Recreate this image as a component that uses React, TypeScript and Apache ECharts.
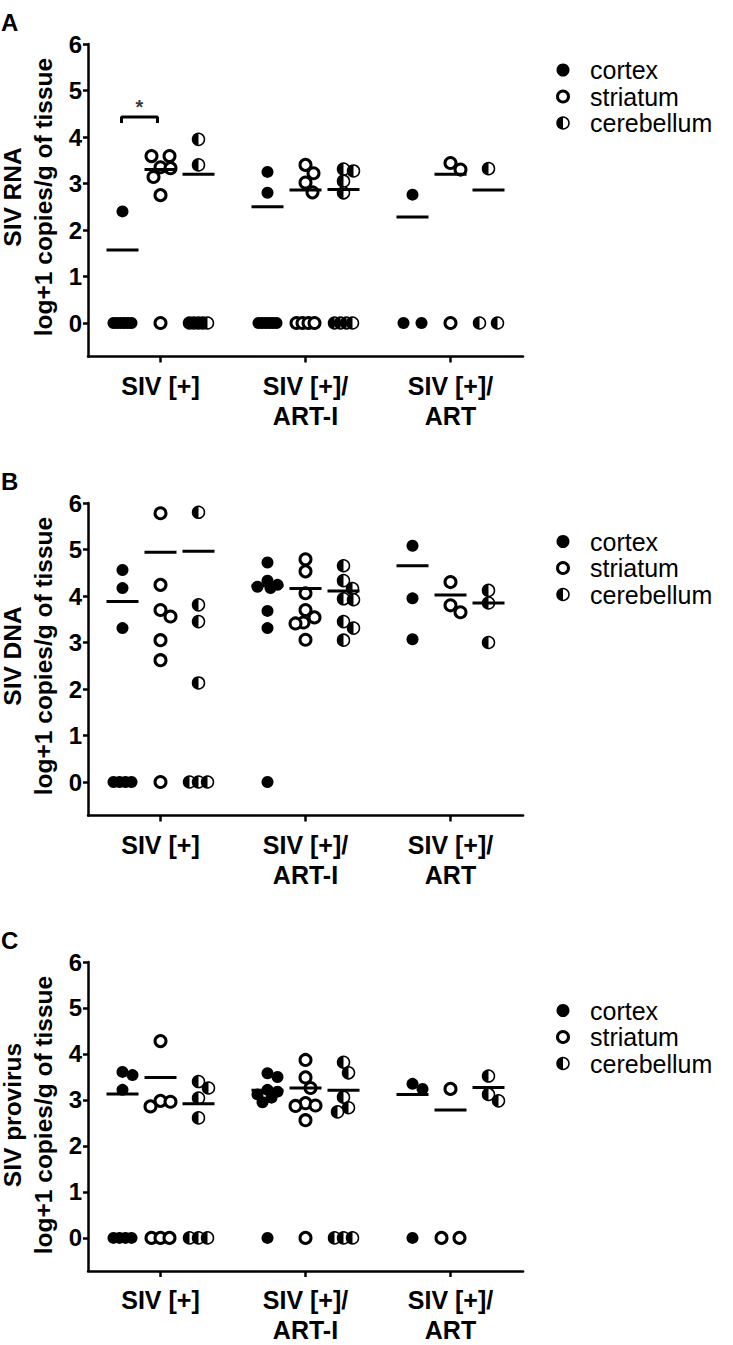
import React, { useEffect, useRef } from 'react';
import * as echarts from 'echarts';

const groups = ['SIV [+]', 'SIV [+]/\nART-I', 'SIV [+]/\nART'];
const tissues = ['cortex', 'striatum', 'cerebellum'];
const yTickValues = [0, 1, 2, 3, 4, 5, 6];
const groupTickValues = [0, 1, 2];

// A: SIV RNA (one inner list per group: SIV[+], SIV[+]/ART-I, SIV[+]/ART)
const rnaCortex = [[2.4, 0, 0, 0, 0, 0, 0], [3.25, 2.8, 0, 0, 0, 0, 0, 0], [2.76, 0, 0]];
const rnaStriatum = [[3.59, 3.59, 3.35, 3.33, 3.14, 2.75, 0], [3.4, 3.22, 3.02, 2.81, 0, 0, 0, 0], [3.44, 3.3, 0]];
const rnaCerebellum = [[3.95, 3.4, 0, 0, 0, 0, 0], [3.31, 3.27, 3.05, 2.8, 0, 0, 0, 0], [3.32, 0, 0]];
const rnaMeanCortex = [1.57, 2.5, 2.28];
const rnaMeanStriatum = [3.3, 2.86, 3.2];
const rnaMeanCerebellum = [3.2, 2.87, 2.86];

// B: SIV DNA
const dnaCortex = [[4.56, 4.17, 3.31, 0, 0, 0, 0], [4.72, 4.33, 4.24, 4.2, 4.17, 3.68, 3.31, 0], [5.08, 3.95, 3.07]];
const dnaStriatum = [[5.78, 4.24, 3.7, 3.56, 3.05, 2.62, 0], [4.79, 4.53, 4.06, 3.7, 3.54, 3.43, 3.41, 3.06], [4.3, 3.8, 3.65]];
const dnaCerebellum = [[5.8, 3.81, 3.45, 2.13, 0, 0, 0], [4.65, 4.33, 4.16, 3.94, 3.92, 3.45, 3.31, 3.05], [4.12, 3.85, 3.0]];
const dnaMeanCortex = [3.88, 4.22, 4.65];
const dnaMeanStriatum = [4.94, 4.16, 4.02];
const dnaMeanCerebellum = [4.96, 4.11, 3.85];

// C: SIV provirus
const provCortex = [[3.61, 3.54, 3.22, 0, 0, 0, 0], [3.58, 3.5, 3.22, 3.18, 3.12, 3.05, 2.95, 0], [3.35, 3.24, 0]];
const provStriatum = [[4.28, 2.98, 2.96, 2.86, 0, 0, 0], [3.87, 3.49, 3.26, 2.93, 2.88, 2.87, 2.56, 0], [3.24, 0, 0]];
const provCerebellum = [[3.4, 3.26, 3.04, 2.61, 0, 0, 0], [3.82, 3.59, 3.06, 2.83, 2.74, 0, 0, 0], [3.52, 3.12, 2.98]];
const provMeanCortex = [3.13, 3.21, 3.12];
const provMeanStriatum = [3.49, 3.26, 2.78];
const provMeanCerebellum = [2.92, 3.21, 3.27];

const panelLetters = ['A', 'B', 'C'];
const panelMeasures = ['SIV RNA', 'SIV DNA', 'SIV provirus'];
const yUnit = 'log+1 copies/g of tissue';

// significance bracket in panel A (cortex vs striatum, SIV[+])
const sigLevel = 4.43;
const sigLabel = '*';

// ---- layout / styling ----
const FONT = '"Liberation Sans", Arial, Helvetica, sans-serif';
const GRID_LEFT = 88;
const GRID_WIDTH = 435;
const GRID_HEIGHT = 312.5;
const PANEL_TOPS = [44, 503, 962];
const Y_MIN = -0.72;
const Y_MAX = 6;
const X_MIN = -0.5;
const X_MAX = 2.5;
const COLUMN_OFFSET_PX = [-38, 0, 38];
const PX_PER_X = GRID_WIDTH / (X_MAX - X_MIN);
const PX_PER_Y = GRID_HEIGHT / (Y_MAX - Y_MIN);
const LEGEND_X = [563, 563, 563];
const LEGEND_Y = [70, 541.5, 1010.5];
const LEGEND_STEP = 26.5;

const HALF_LEFT = 'path://M50,0 C22.39,0 0,22.39 0,50 C0,77.61 22.39,100 50,100 Z M100,50 L100,50';

// simple beeswarm (pixel space) for one column
function swarm(values: number[]): number[] {
  const D = 11.5;
  const H = 10;
  const offsets = new Array(values.length).fill(0);
  const placed: { x: number; y: number }[] = [];
  const same = new Map<number, number[]>();
  values.forEach((v, i) => {
    const arr = same.get(v) || [];
    arr.push(i);
    same.set(v, arr);
  });
  const singles: number[] = [];
  same.forEach((arr, v) => {
    if (arr.length > 1) {
      const step = Math.min(20, 18 / (arr.length - 1));
      arr.forEach((i, k) => {
        offsets[i] = (k - (arr.length - 1) / 2) * step;
        placed.push({ x: offsets[i], y: v * PX_PER_Y });
      });
    } else singles.push(arr[0]);
  });
  singles.sort((a, b) => values[b] - values[a]);
  for (const i of singles) {
    const y = values[i] * PX_PER_Y;
    let best = 0;
    let bestD = -1;
    for (let k = 0; k <= 2 * H; k++) {
      const c = k === 0 ? 0 : k % 2 === 1 ? Math.ceil(k / 2) : -k / 2;
      let m = Infinity;
      for (const p of placed) m = Math.min(m, Math.hypot(p.x - c, p.y - y));
      if (m >= D) {
        best = c;
        bestD = m;
        break;
      }
      if (m > bestD) {
        bestD = m;
        best = c;
      }
    }
    offsets[i] = best;
    placed.push({ x: best, y });
  }
  return offsets;
}

function pointsFor(lists: number[][], t: number) {
  const out: number[][] = [];
  lists.forEach((vals, g) => {
    const offs = swarm(vals);
    vals.forEach((v, i) => out.push([g + (COLUMN_OFFSET_PX[t] + offs[i]) / PX_PER_X, v]));
  });
  return out;
}

function meansFor(means: number[][]) {
  const out: number[][] = [];
  means.forEach((m, t) => m.forEach((v, g) => out.push([g + COLUMN_OFFSET_PX[t] / PX_PER_X, v])));
  return out;
}

function buildOption() {
  const panels = [
    { cortex: rnaCortex, striatum: rnaStriatum, cerebellum: rnaCerebellum, means: [rnaMeanCortex, rnaMeanStriatum, rnaMeanCerebellum] },
    { cortex: dnaCortex, striatum: dnaStriatum, cerebellum: dnaCerebellum, means: [dnaMeanCortex, dnaMeanStriatum, dnaMeanCerebellum] },
    { cortex: provCortex, striatum: provStriatum, cerebellum: provCerebellum, means: [provMeanCortex, provMeanStriatum, provMeanCerebellum] },
  ];
  const grid: any[] = [];
  const xAxis: any[] = [];
  const yAxis: any[] = [];
  const series: any[] = [];
  const graphic: any[] = [];
  const axisLineStyle = { color: '#000', width: 2.5 };

  panels.forEach((p, i) => {
    grid.push({ left: GRID_LEFT, top: PANEL_TOPS[i], width: GRID_WIDTH, height: GRID_HEIGHT });
    xAxis.push({
      gridIndex: i,
      type: 'value',
      min: X_MIN,
      max: X_MAX,
      splitLine: { show: false },
      axisLine: { show: true, onZero: false, lineStyle: axisLineStyle },
      axisTick: { show: true, customValues: groupTickValues, length: 6, lineStyle: axisLineStyle },
      axisLabel: {
        customValues: groupTickValues,
        formatter: (v: number) => groups[Math.round(v)] ?? '',
        fontFamily: FONT,
        fontSize: 25,
        fontWeight: 'bold',
        color: '#000',
        lineHeight: 30,
        margin: 14,
      },
    });
    yAxis.push({
      gridIndex: i,
      type: 'value',
      min: Y_MIN,
      max: Y_MAX,
      splitLine: { show: false },
      axisLine: { show: true, onZero: false, lineStyle: axisLineStyle },
      axisTick: { show: true, customValues: yTickValues, length: 5, lineStyle: axisLineStyle },
      axisLabel: {
        customValues: yTickValues,
        formatter: (v: number) => String(v),
        fontFamily: FONT,
        fontSize: 24,
        fontWeight: 'bold',
        color: '#000',
        margin: 6,
      },
    });
    const base = { type: 'scatter', xAxisIndex: i, yAxisIndex: i, silent: true, animation: false };
    series.push({ ...base, name: tissues[0], symbol: 'circle', symbolSize: 12, itemStyle: { color: '#000', opacity: 1 }, data: pointsFor(p.cortex, 0) });
    series.push({ ...base, name: tissues[1], symbol: 'circle', symbolSize: 11, itemStyle: { color: '#fff', borderColor: '#000', borderWidth: 3, opacity: 1 }, data: pointsFor(p.striatum, 1) });
    const cer = pointsFor(p.cerebellum, 2);
    series.push({ ...base, name: tissues[2], symbol: 'circle', symbolSize: 12, itemStyle: { color: '#fff', borderColor: '#000', borderWidth: 1.5, opacity: 1 }, data: cer });
    series.push({ ...base, name: tissues[2] + '-half', symbol: HALF_LEFT, symbolSize: 12, itemStyle: { color: '#000', opacity: 1 }, data: cer });
    series.push({ ...base, name: 'mean', symbol: 'rect', symbolSize: [32, 3], itemStyle: { color: '#000', opacity: 1 }, data: meansFor(p.means) });

    if (i === 0) {
      const xl = (COLUMN_OFFSET_PX[0] - 1) / PX_PER_X;
      const xr = (COLUMN_OFFSET_PX[1] - 3) / PX_PER_X;
      const leg = 6 / PX_PER_Y;
      series.push({
        type: 'line', xAxisIndex: 0, yAxisIndex: 0, silent: true, symbol: 'none',
        lineStyle: { color: '#000', width: 3 },
        data: [[xl, sigLevel - leg], [xl, sigLevel], [xr, sigLevel], [xr, sigLevel - leg]],
      });
      series.push({
        type: 'scatter', xAxisIndex: 0, yAxisIndex: 0, silent: true, symbolSize: 0,
        data: [[(xl + xr) / 2, sigLevel + 10 / PX_PER_Y]],
        label: { show: true, position: 'inside', formatter: sigLabel, fontFamily: FONT, fontSize: 20, fontWeight: 'bold', color: '#000' },
      });
    }

    const yTop = PANEL_TOPS[i];
    graphic.push({
      type: 'text', left: 1, top: yTop - 34,
      style: { text: panelLetters[i], fontFamily: FONT, fontSize: 24, fontWeight: 'bold', fill: '#000' },
    });
    graphic.push({
      type: 'text', x: 28, y: yTop + 153, rotation: Math.PI / 2,
      style: {
        text: panelMeasures[i] + '\n' + yUnit, fontFamily: FONT, fontSize: 24.5, fontWeight: 'bold', fill: '#000',
        lineHeight: 31, textAlign: 'center', textVerticalAlign: 'middle', verticalAlign: 'middle', align: 'center',
      },
    });
    const lx = LEGEND_X[i];
    const ly = LEGEND_Y[i];
    const st = LEGEND_STEP;
    graphic.push({ type: 'circle', shape: { cx: lx, cy: ly, r: 6.5 }, style: { fill: '#000' } });
    graphic.push({ type: 'circle', shape: { cx: lx, cy: ly + st, r: 5.5 }, style: { fill: '#fff', stroke: '#000', lineWidth: 3 } });
    graphic.push({ type: 'circle', shape: { cx: lx, cy: ly + 2 * st, r: 6 }, style: { fill: '#fff', stroke: '#000', lineWidth: 1.5 } });
    graphic.push({ type: 'sector', shape: { cx: lx, cy: ly + 2 * st, r0: 0, r: 6, startAngle: Math.PI / 2, endAngle: (3 * Math.PI) / 2 }, style: { fill: '#000' } });
    tissues.forEach((t, k) => {
      graphic.push({
        type: 'text', x: lx + 27, y: ly + k * st,
        style: { text: t, fontFamily: FONT, fontSize: 25, fill: '#000', textAlign: 'left', textVerticalAlign: 'middle', verticalAlign: 'middle' },
      });
    });
  });

  return { animation: false, backgroundColor: '#fff', grid, xAxis, yAxis, series, graphic };
}

export default function App() {
  const ref = useRef<HTMLDivElement>(null);
  useEffect(() => {
    if (!ref.current) return;
    const chart = echarts.init(ref.current, undefined, { renderer: 'svg' });
    chart.setOption(buildOption());
    return () => chart.dispose();
  }, []);
  return <div ref={ref} style={{ position: 'absolute', left: 0, top: 0, width: 733, height: 1345, background: '#fff' }} />;
}
